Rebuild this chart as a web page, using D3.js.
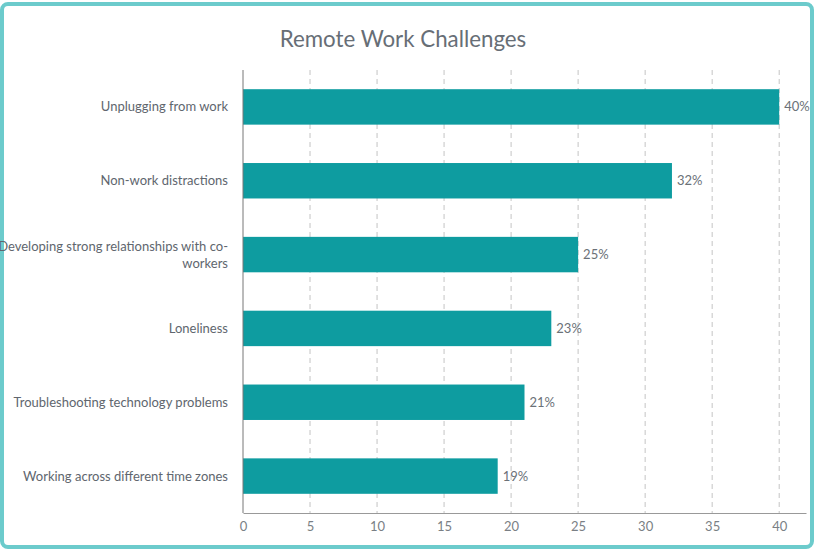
<!DOCTYPE html>
<html><head><meta charset="utf-8">
<script src="https://cdn.jsdelivr.net/npm/d3@7/dist/d3.min.js"></script>
<style>
html,body{margin:0;padding:0;background:#fff;}
svg{display:block;font-family:Lato,"Open Sans",sans-serif;}
</style></head>
<body><svg id="c" width="817" height="550"></svg>
<script>
const title = "Remote Work Challenges";
const categories = [
  ["Unplugging from work"],
  ["Non-work distractions"],
  ["Developing strong relationships with co-", "workers"],
  ["Loneliness"],
  ["Troubleshooting technology problems"],
  ["Working across different time zones"]
];
const values = [40, 32, 25, 23, 21, 19];
const xTicks = [0, 5, 10, 15, 20, 25, 30, 35, 40];
const xDomain = [0, 42];

const svg = d3.select("#c");
svg.append("rect").attr("x", 2).attr("y", 4).attr("width", 810).attr("height", 543)
  .attr("rx", 6).attr("fill", "#fff").attr("stroke", "#6ccbcc").attr("stroke-width", 4);

const m = {left: 243, right: 806, top: 70, bottom: 513};
const x = d3.scaleLinear().domain(xDomain).range([m.left, m.right]);
const y = d3.scaleBand().domain(d3.range(categories.length)).range([m.top, m.bottom]).paddingInner(0.52).paddingOuter(0.26);

svg.append("text").attr("x", 403).attr("y", 47).attr("text-anchor", "middle")
  .attr("font-size", 22.3).attr("fill", "#676e76").text(title);

// gridlines
svg.append("g").selectAll("line").data(xTicks.filter(d => d > 0)).join("line")
  .attr("x1", d => x(d)).attr("x2", d => x(d)).attr("y1", m.top).attr("y2", m.bottom)
  .attr("stroke", "#c4c4c4").attr("stroke-dasharray", "5,4").attr("stroke-width", 1);

// bars
svg.append("g").selectAll("rect").data(values).join("rect")
  .attr("x", x(0)).attr("y", (d, i) => y(i)).attr("width", d => x(d) - x(0)).attr("height", y.bandwidth())
  .attr("fill", "#0e9ca0");

// value labels
svg.append("g").selectAll("text").data(values).join("text")
  .attr("x", d => x(d) + 5).attr("y", (d, i) => y(i) + y.bandwidth() / 2).attr("dy", "0.35em")
  .attr("font-size", 13).attr("fill", "#6b7178").text(d => d + "%");

// x axis
const xa = svg.append("g").attr("transform", `translate(0,${m.bottom})`)
  .call(d3.axisBottom(x).tickValues(xTicks).tickSize(0).tickPadding(9));
xa.select(".domain").attr("stroke", "#999");
xa.selectAll("text").attr("font-size", 13).attr("fill", "#7a7f85").attr("font-family", "Lato,sans-serif");

// y axis line
svg.append("line").attr("x1", m.left).attr("x2", m.left).attr("y1", m.top).attr("y2", m.bottom)
  .attr("stroke", "#777").attr("stroke-width", 1);

// category labels
const lg = svg.append("g");
categories.forEach((lines, i) => {
  const cy = y(i) + y.bandwidth() / 2;
  const lh = 17;
  const t = lg.append("text").attr("text-anchor", "end").attr("font-size", 13).attr("fill", "#60666e");
  lines.forEach((ln, j) => {
    t.append("tspan").attr("x", m.left - 15)
      .attr("y", cy + (j - (lines.length - 1) / 2) * lh).attr("dy", "0.35em").text(ln);
  });
});
</script></body></html>
